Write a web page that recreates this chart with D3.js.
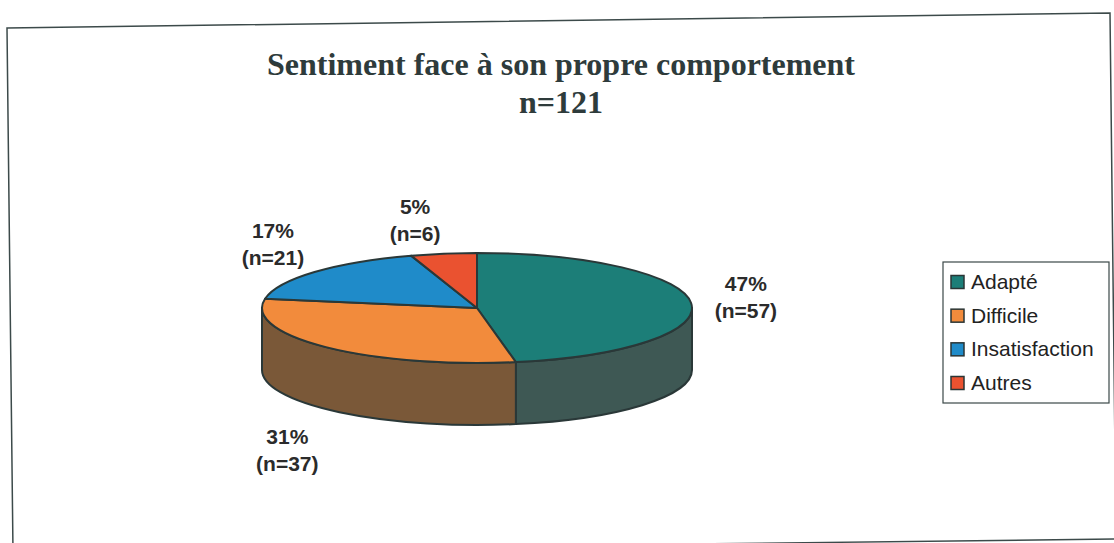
<!DOCTYPE html>
<html><head><meta charset="utf-8">
<script src="https://cdn.jsdelivr.net/npm/d3@7"></script>
<style>body{margin:0;background:#fff}svg{display:block}</style>
</head><body>
<svg id="c" width="1114" height="543"></svg>
<script>
// ---- data ----
const categories = ["Adapté", "Difficile", "Insatisfaction", "Autres"];
const counts = [57, 37, 21, 6];
const percentLabels = ["47%", "31%", "17%", "5%"];
const countLabels = ["(n=57)", "(n=37)", "(n=21)", "(n=6)"];
const topColors = ["#1c7e78", "#f28b3c", "#1f8bc9", "#ea5230"];
const sideColors = ["#3e5854", "#7a5838", "#17608c", "#a43a22"];
const titleText = "Sentiment face à son propre comportement";
const subtitleText = "n=121";

// ---- layout ----
const svg = d3.select("#c");
const cx = 477, cy = 308, rx = 215, ry = 55, depth = 62;
const outline = "#2a3838";

// frame (slightly skewed like the scanned page)
svg.append("path")
  .attr("d", "M7,28 L1110,13 L1116,539 L13,552 Z")
  .attr("fill", "none").attr("stroke", "#3c4a4a").attr("stroke-width", 1.5);

// title
svg.append("text").attr("x", 561).attr("y", 75)
  .attr("text-anchor", "middle")
  .attr("font-family", "'Liberation Serif','Times New Roman',serif")
  .attr("font-weight", "bold").attr("font-size", 32).attr("fill", "#2e3b3b")
  .text(titleText);
svg.append("text").attr("x", 561).attr("y", 113)
  .attr("text-anchor", "middle")
  .attr("font-family", "'Liberation Serif','Times New Roman',serif")
  .attr("font-weight", "bold").attr("font-size", 32).attr("fill", "#2e3b3b")
  .text(subtitleText);

// pie
const pie = d3.pie().sort(null).startAngle(0).endAngle(2 * Math.PI);
const arcs = pie(counts);
const P = (a, dy = 0, kx = rx, ky = ry) => [cx + kx * Math.sin(a), cy + dy - ky * Math.cos(a)];

// sides (front half: angles between PI/2 and 3PI/2)
arcs.forEach((d, i) => {
  const s = Math.max(d.startAngle, Math.PI / 2);
  const e = Math.min(d.endAngle, 3 * Math.PI / 2);
  if (s >= e) return;
  const p1 = P(s), p2 = P(e), p3 = P(e, depth), p4 = P(s, depth);
  const path = `M${p1} A${rx},${ry} 0 0 1 ${p2} L${p3} A${rx},${ry} 0 0 0 ${p4} Z`;
  svg.append("path").attr("d", path)
    .attr("fill", sideColors[i]).attr("stroke", outline)
    .attr("stroke-width", 2).attr("stroke-linejoin", "round");
});

// tops
arcs.forEach((d, i) => {
  const p1 = P(d.startAngle), p2 = P(d.endAngle);
  const large = (d.endAngle - d.startAngle) > Math.PI ? 1 : 0;
  const path = `M${cx},${cy} L${p1} A${rx},${ry} 0 ${large} 1 ${p2} Z`;
  svg.append("path").attr("d", path)
    .attr("fill", topColors[i]).attr("stroke", outline)
    .attr("stroke-width", 2).attr("stroke-linejoin", "round");
});

// labels (placed on an outer ellipse around each slice's mid-angle)
arcs.forEach((d, i) => {
  const m = (d.startAngle + d.endAngle) / 2;
  const front = Math.cos(m) < 0;
  let [lx, ly] = P(m, front ? depth + 14 : 0, rx + 55, ry + 40);
  // small slices near the top are pushed slightly outward/leftward (best fit)
  if (d.endAngle - d.startAngle < 0.4) { lx -= 20; ly += 8; }
  const g = svg.append("g").attr("font-family", "'Liberation Sans',Arial,sans-serif")
    .attr("font-weight", "bold").attr("font-size", 21).attr("fill", "#2b2b2b")
    .attr("text-anchor", "middle");
  g.append("text").attr("x", lx).attr("y", ly - 8).text(percentLabels[i]);
  g.append("text").attr("x", lx).attr("y", ly + 19).text(countLabels[i]);
});

// legend
const lx0 = 943, ly0 = 262, lw = 166, lh = 141;
svg.append("rect").attr("x", lx0).attr("y", ly0).attr("width", lw).attr("height", lh)
  .attr("fill", "#fff").attr("stroke", "#3b4848").attr("stroke-width", 1.2);
const rowY = d3.scalePoint().domain(categories).range([ly0 + 20, ly0 + 121]);
categories.forEach((c, i) => {
  const y = rowY(c);
  svg.append("rect").attr("x", lx0 + 8).attr("y", y - 6.5).attr("width", 13).attr("height", 13)
    .attr("fill", topColors[i]).attr("stroke", "#2a3535").attr("stroke-width", 1.5);
  svg.append("text").attr("x", lx0 + 28).attr("y", y + 7)
    .attr("font-family", "'Liberation Sans',Arial,sans-serif")
    .attr("font-size", 21).attr("fill", "#222")
    .text(c);
});
</script>
</body></html>
